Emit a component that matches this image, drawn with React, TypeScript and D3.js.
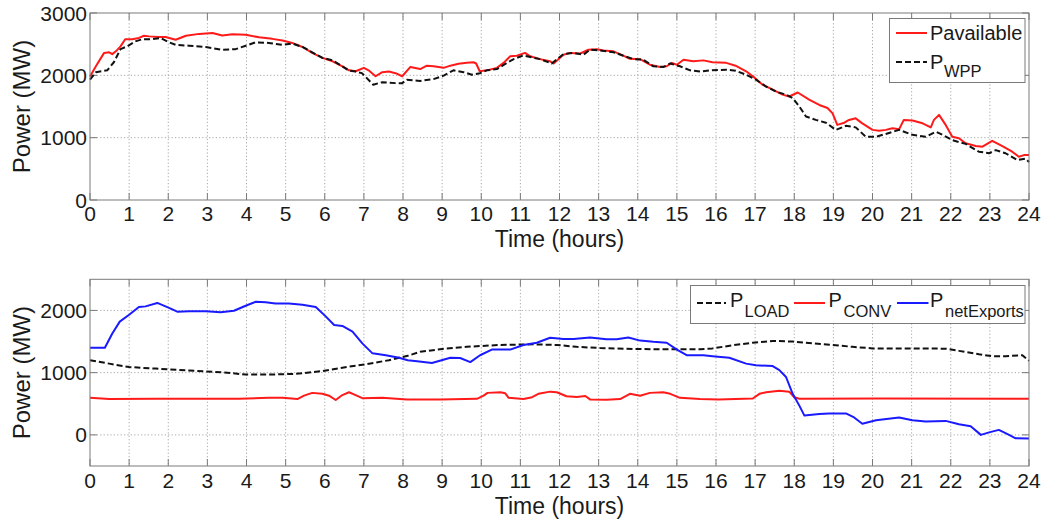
import React from "react";
import * as d3 from "d3";

// ---------- DATA ----------
const hourTicks = d3.range(0, 25);
const topYTicks = [0, 1000, 2000, 3000];
const botYTicks = [0, 1000, 2000];

const pAvailT = [0, 0.15, 0.36, 0.49, 0.57, 0.66, 0.78, 0.9, 1.08, 1.25, 1.38, 1.51, 1.76, 1.93, 2.19, 2.45, 2.79, 3.13, 3.38, 3.64, 3.98, 4.32, 4.66, 4.92, 5.17, 5.43, 5.68, 5.94, 6.2, 6.45, 6.62, 6.79, 7.0, 7.12, 7.3, 7.47, 7.64, 7.81, 7.98, 8.19, 8.44, 8.61, 8.78, 9.04, 9.21, 9.42, 9.63, 9.8, 9.87, 9.96, 10.14, 10.4, 10.57, 10.74, 10.91, 11.12, 11.25, 11.5, 11.76, 11.85, 12.1, 12.27, 12.53, 12.74, 12.96, 13.12, 13.38, 13.63, 13.8, 14.06, 14.31, 14.57, 14.74, 14.87, 15.0, 15.17, 15.42, 15.68, 15.91, 16.26, 16.5, 16.77, 17.0, 17.19, 17.45, 17.7, 17.87, 18.09, 18.38, 18.64, 18.85, 18.98, 19.1, 19.28, 19.4, 19.57, 19.74, 20.0, 20.17, 20.34, 20.51, 20.68, 20.8, 21.02, 21.28, 21.49, 21.57, 21.7, 21.87, 22.04, 22.21, 22.38, 22.64, 22.81, 23.06, 23.32, 23.57, 23.74, 23.87, 24.0];
const pAvailV = [1980, 2145, 2360, 2370, 2340, 2385, 2465, 2580, 2580, 2600, 2635, 2625, 2615, 2615, 2570, 2635, 2665, 2680, 2640, 2660, 2650, 2610, 2585, 2560, 2520, 2455, 2360, 2280, 2225, 2145, 2080, 2065, 2120, 2080, 1985, 2050, 2060, 2035, 1985, 2135, 2100, 2155, 2145, 2120, 2155, 2185, 2200, 2210, 2190, 2065, 2080, 2120, 2200, 2305, 2315, 2360, 2305, 2260, 2225, 2190, 2330, 2360, 2350, 2410, 2420, 2400, 2385, 2315, 2265, 2260, 2170, 2135, 2145, 2200, 2170, 2250, 2225, 2240, 2210, 2200, 2155, 2065, 1955, 1850, 1770, 1690, 1660, 1725, 1610, 1525, 1475, 1390, 1205, 1240, 1285, 1310, 1230, 1125, 1110, 1125, 1150, 1135, 1285, 1275, 1230, 1165, 1285, 1365, 1205, 1015, 990, 910, 865, 855, 950, 865, 775, 695, 720, 720];

const pWppT = [0, 0.15, 0.44, 0.61, 0.78, 0.95, 1.16, 1.34, 1.59, 1.8, 2.02, 2.19, 2.53, 2.96, 3.38, 3.72, 3.98, 4.23, 4.57, 4.92, 5.17, 5.43, 5.68, 5.94, 6.2, 6.45, 6.62, 6.79, 6.95, 7.24, 7.47, 7.81, 7.98, 8.1, 8.44, 8.78, 9.04, 9.29, 9.55, 9.76, 9.97, 10.14, 10.4, 10.66, 10.83, 11.08, 11.34, 11.51, 11.8, 12.1, 12.36, 12.61, 12.78, 13.04, 13.38, 13.63, 13.89, 14.14, 14.4, 14.66, 14.83, 15.08, 15.34, 15.6, 15.85, 16.26, 16.5, 16.77, 17.02, 17.28, 17.53, 17.79, 17.96, 18.13, 18.3, 18.55, 18.81, 19.06, 19.32, 19.57, 19.83, 20.09, 20.34, 20.68, 21.02, 21.36, 21.62, 21.79, 22.04, 22.38, 22.72, 22.98, 23.15, 23.4, 23.7, 23.91, 24.0];
const pWppV = [1930, 2050, 2080, 2210, 2420, 2465, 2545, 2580, 2580, 2600, 2530, 2490, 2475, 2455, 2410, 2420, 2475, 2530, 2520, 2490, 2510, 2455, 2370, 2280, 2240, 2145, 2075, 2060, 2035, 1850, 1890, 1875, 1875, 1930, 1910, 1940, 1995, 2080, 2050, 2010, 2035, 2080, 2100, 2200, 2260, 2320, 2280, 2260, 2190, 2340, 2360, 2330, 2410, 2400, 2370, 2315, 2260, 2250, 2145, 2135, 2190, 2145, 2080, 2060, 2080, 2090, 2075, 2010, 1930, 1820, 1740, 1690, 1635, 1500, 1340, 1285, 1240, 1125, 1190, 1165, 1015, 1015, 1060, 1125, 1045, 1015, 1095, 1045, 960, 900, 775, 750, 800, 750, 640, 665, 610];

const pLoadT = [0, 0.49, 1.0, 1.68, 2.53, 3.38, 3.98, 4.66, 5.25, 5.94, 6.45, 7.05, 7.64, 7.9, 8.12, 8.44, 9.0, 9.63, 10.48, 11.34, 11.93, 12.44, 13.04, 13.89, 14.74, 15.59, 15.91, 16.43, 16.94, 17.45, 17.96, 18.47, 18.98, 19.49, 20.0, 21.02, 21.87, 22.21, 22.72, 23.06, 23.4, 23.83, 23.96, 24.0];
const pLoadV = [1200, 1145, 1090, 1065, 1035, 1005, 970, 970, 980, 1025, 1080, 1135, 1200, 1240, 1270, 1335, 1380, 1415, 1445, 1455, 1445, 1415, 1395, 1380, 1375, 1375, 1390, 1440, 1480, 1510, 1500, 1470, 1445, 1415, 1390, 1390, 1385, 1350, 1295, 1265, 1265, 1280, 1210, 1190];

const pConvT = [0, 0.49, 1.68, 3.81, 4.57, 4.92, 5.3, 5.47, 5.68, 5.94, 6.11, 6.28, 6.45, 6.62, 6.79, 6.96, 7.47, 8.1, 8.95, 9.89, 10.06, 10.16, 10.49, 10.61, 10.7, 11.08, 11.3, 11.46, 11.76, 11.93, 12.18, 12.44, 12.66, 12.78, 13.2, 13.55, 13.8, 14.06, 14.31, 14.65, 14.83, 15.08, 15.59, 16.06, 16.94, 17.11, 17.28, 17.62, 17.87, 18.0, 18.13, 20.17, 24.0];
const pConvV = [595, 575, 580, 580, 595, 595, 575, 630, 675, 660, 630, 560, 640, 685, 640, 590, 595, 570, 570, 580, 630, 675, 685, 670, 595, 575, 605, 660, 695, 685, 620, 610, 625, 570, 565, 575, 660, 630, 675, 685, 660, 595, 575, 570, 585, 660, 685, 710, 695, 605, 580, 585, 580];

const pNetT = [0, 0.38, 0.57, 0.76, 1.0, 1.25, 1.42, 1.72, 2.02, 2.23, 2.53, 2.96, 3.34, 3.68, 3.98, 4.24, 4.49, 4.74, 5.08, 5.43, 5.77, 6.03, 6.24, 6.45, 6.71, 6.96, 7.22, 7.56, 7.9, 8.12, 8.36, 8.74, 9.21, 9.46, 9.72, 9.97, 10.27, 10.74, 11.08, 11.42, 11.76, 12.1, 12.36, 12.78, 13.2, 13.46, 13.76, 14.06, 14.4, 14.74, 15.0, 15.25, 15.68, 15.91, 16.34, 16.77, 17.02, 17.45, 17.62, 17.79, 17.96, 18.13, 18.26, 18.64, 18.89, 19.32, 19.53, 19.74, 20.09, 20.68, 21.02, 21.36, 21.87, 22.21, 22.51, 22.77, 22.98, 23.23, 23.49, 23.66, 24.0];
const pNetV = [1400, 1400, 1630, 1820, 1930, 2055, 2065, 2120, 2040, 1980, 1985, 1985, 1970, 1995, 2075, 2140, 2130, 2110, 2110, 2090, 2055, 1900, 1765, 1750, 1660, 1470, 1310, 1280, 1240, 1200, 1185, 1155, 1240, 1235, 1170, 1280, 1370, 1370, 1445, 1480, 1560, 1540, 1540, 1565, 1535, 1535, 1565, 1515, 1495, 1480, 1370, 1280, 1280, 1265, 1240, 1145, 1120, 1105, 1040, 930, 660, 470, 310, 335, 345, 345, 280, 180, 235, 280, 235, 215, 225, 170, 140, 0, 40, 80, 0, -55, -60];

// ---------- STYLE ----------
const FONT = "'Liberation Sans', Arial, sans-serif";
const TXT = "#1a1a1a";
const BOX = "#7a7a7a";
const GRID = "#a8a8a8";
const RED = "#ff1a1a";
const BLUE = "#1a1aff";
const BLK = "#111111";

const X0 = 90, X1 = 1029;

type Series = { t: number[]; v: number[]; color: string; dash?: string };

function Panel({ top, bottom, domain, yTicks, series, xLabelY, titleY }: {
  top: number; bottom: number; domain: [number, number]; yTicks: number[];
  series: Series[]; xLabelY: number; titleY: number;
}) {
  const x = d3.scaleLinear().domain([0, 24]).range([X0, X1]);
  const y = d3.scaleLinear().domain(domain).range([bottom, top]);
  const line = d3.line<[number, number]>().x(d => x(d[0])).y(d => y(d[1]));
  const tl = 7;
  return (
    <g>
      {hourTicks.filter(h => h > 0 && h < 24).map(h => (
        <line key={"gx" + h} x1={x(h)} x2={x(h)} y1={top} y2={bottom} stroke={GRID} strokeWidth={1} strokeDasharray="1.2,2.2" />
      ))}
      {yTicks.filter(v => y(v) > top + 1 && y(v) < bottom - 1).map(v => (
        <line key={"gy" + v} x1={X0} x2={X1} y1={y(v)} y2={y(v)} stroke={GRID} strokeWidth={1} strokeDasharray="1.2,2.2" />
      ))}
      {hourTicks.map(h => (
        <g key={"tx" + h}>
          <line x1={x(h)} x2={x(h)} y1={bottom} y2={bottom - tl} stroke={BOX} strokeWidth={1} />
          <line x1={x(h)} x2={x(h)} y1={top} y2={top + tl} stroke={BOX} strokeWidth={1} />
        </g>
      ))}
      {yTicks.map(v => (
        <g key={"ty" + v}>
          <line x1={X0} x2={X0 + tl} y1={y(v)} y2={y(v)} stroke={BOX} strokeWidth={1} />
          <line x1={X1} x2={X1 - tl} y1={y(v)} y2={y(v)} stroke={BOX} strokeWidth={1} />
        </g>
      ))}
      {series.map((s, i) => (
        <path key={"s" + i} d={line(s.t.map((t, j) => [t, s.v[j]] as [number, number])) || ""}
          fill="none" stroke={s.color} strokeWidth={2} strokeDasharray={s.dash} strokeLinejoin="round" />
      ))}
      <rect x={X0} y={top} width={X1 - X0} height={bottom - top} fill="none" stroke={BOX} strokeWidth={1} />
      {hourTicks.map(h => (
        <text key={"lx" + h} x={x(h)} y={xLabelY} textAnchor="middle" fontSize={21} fill={TXT} fontFamily={FONT}>{h}</text>
      ))}
      {yTicks.map(v => (
        <text key={"ly" + v} x={X0 - 3} y={y(v) + 7.5} textAnchor="end" fontSize={21} fill={TXT} fontFamily={FONT}>{v}</text>
      ))}
      <text x={(X0 + X1) / 2} y={titleY} textAnchor="middle" fontSize={23} fill={TXT} fontFamily={FONT}>Time (hours)</text>
      <text transform={`translate(30,${(top + bottom) / 2}) rotate(-90)`} textAnchor="middle" fontSize={24} fill={TXT} fontFamily={FONT}>Power (MW)</text>
    </g>
  );
}

export default function App() {
  return (
    <svg width={1047} height={521} style={{ position: "absolute", left: 0, top: 0, background: "#fff" }}>
      <rect x={0} y={0} width={1047} height={521} fill="#fff" />
      <Panel top={13} bottom={200} domain={[0, 3000]} yTicks={topYTicks} xLabelY={221} titleY={246.5}
        series={[
          { t: pAvailT, v: pAvailV, color: RED },
          { t: pWppT, v: pWppV, color: BLK, dash: "6,3" },
        ]} />
      <Panel top={279.3} bottom={466} domain={[-500, 2500]} yTicks={botYTicks} xLabelY={487.5} titleY={513.5}
        series={[
          { t: pLoadT, v: pLoadV, color: BLK, dash: "6,3" },
          { t: pConvT, v: pConvV, color: RED },
          { t: pNetT, v: pNetV, color: BLUE },
        ]} />
      <g fontFamily={FONT} fill={TXT}>
        <rect x={889.5} y={18.5} width={135.5} height={64} fill="#fff" stroke={BOX} strokeWidth={1} />
        <line x1={896} x2={927} y1={33} y2={33} stroke={RED} strokeWidth={2} />
        <text x={930} y={40} fontSize={20}>Pavailable</text>
        <line x1={896} x2={927} y1={62} y2={62} stroke={BLK} strokeWidth={2} strokeDasharray="6,3" />
        <text x={930} y={69} fontSize={20}>P</text>
        <text x={944} y={77} fontSize={16.5}>WPP</text>
      </g>
      <g fontFamily={FONT} fill={TXT}>
        <rect x={690.5} y={285.5} width={334.5} height={38} fill="#fff" stroke={BOX} strokeWidth={1} />
        <line x1={697} x2={726} y1={303} y2={303} stroke={BLK} strokeWidth={2} strokeDasharray="6,3" />
        <text x={730} y={307} fontSize={20}>P</text>
        <text x={744.5} y={317} fontSize={16.5}>LOAD</text>
        <line x1={794} x2={825} y1={303} y2={303} stroke={RED} strokeWidth={2} />
        <text x={828.5} y={307} fontSize={20}>P</text>
        <text x={843.5} y={317} fontSize={16.5}>CONV</text>
        <line x1={897} x2={928.5} y1={303} y2={303} stroke={BLUE} strokeWidth={2} />
        <text x={930} y={307} fontSize={20}>P</text>
        <text x={945} y={317} fontSize={16.5}>netExports</text>
      </g>
    </svg>
  );
}
